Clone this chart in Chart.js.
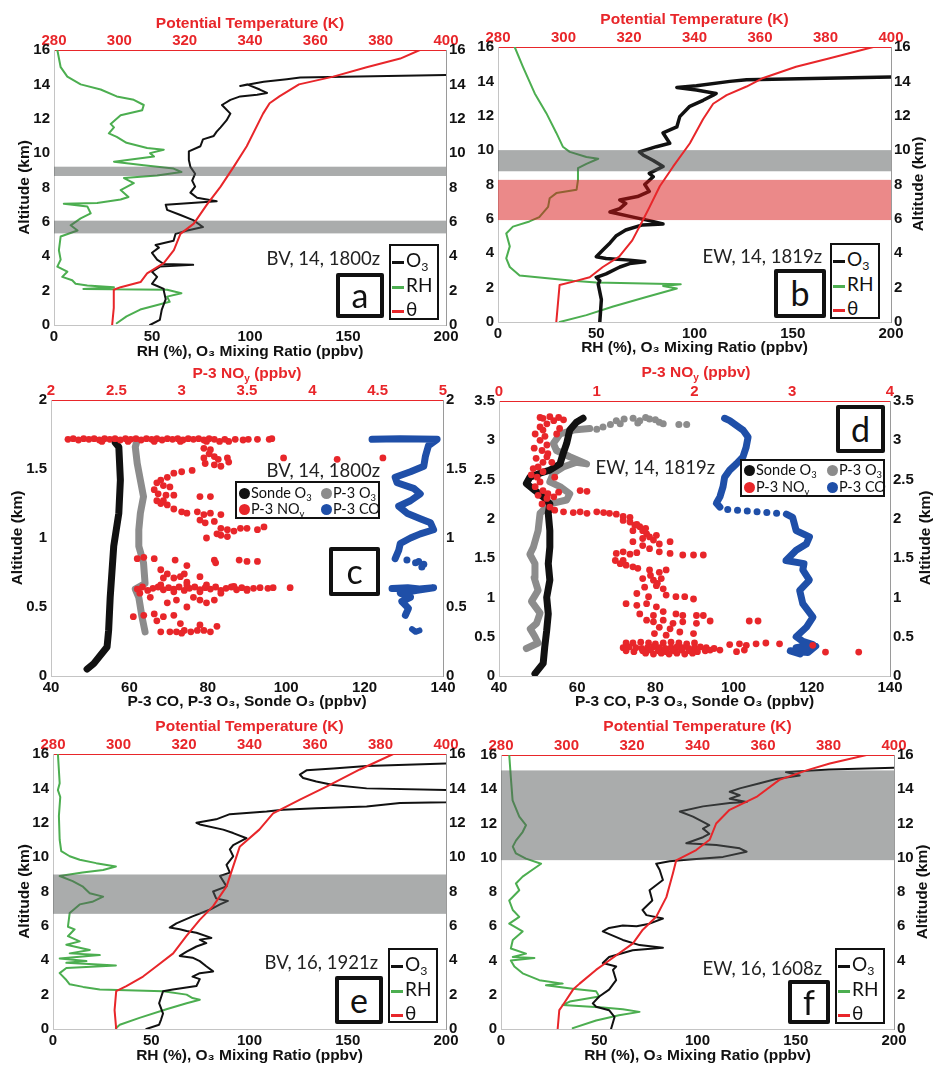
<!DOCTYPE html>
<html>
<head>
<meta charset="utf-8">
<script src="https://cdn.jsdelivr.net/npm/chart.js@4.4.1/dist/chart.umd.min.js"></script>
<style>
body { margin: 0; background: #fff; width: 933px; height: 1065px; position: relative; overflow: hidden; }
canvas { position: absolute; }
.ann { position: absolute; font: 18.5px Lato, sans-serif; color: #222; white-space: nowrap; text-align: right; height: 24px; line-height: 24px; }
.leg { position: absolute; box-sizing: border-box; border: 2px solid #111; background: #fff; color: #111; font: 19px Lato, sans-serif; }
.leg .r { position: absolute; left: 1px; height: 22px; line-height: 22px; white-space: nowrap; }
.leg i { display: inline-block; width: 12px; height: 3px; margin-right: 2px; vertical-align: middle; }
.leg2 { position: absolute; box-sizing: border-box; border: 2px solid #111; background: #fff; color: #111; font: 14.5px Lato, sans-serif; }
.leg2 .r { position: absolute; height: 17px; line-height: 17px; white-space: nowrap; }
.leg2 b { display: inline-block; width: 11px; height: 11px; border-radius: 50%; margin-right: 1px; vertical-align: -1px; }
.box { position: absolute; box-sizing: border-box; border: 4px solid #111; border-radius: 2px; background: #fff; color: #111; font: 34px Lato, sans-serif; text-align: center; }
.rtl { position: absolute; font: bold 15.5px "Liberation Sans", Arial, sans-serif; color: #111; white-space: nowrap; transform: translate(-50%, -50%) rotate(-90deg); }
.noy { position: absolute; font: bold 15.5px "Liberation Sans", Arial, sans-serif; color: #e8262a; white-space: nowrap; transform: translate(-50%, -50%); }
sub { font-size: 65%; vertical-align: -0.35em; line-height: 0; }
</style>
</head>
<body>
<canvas id="pa" width="466" height="362" style="left:0;top:0"></canvas>
<canvas id="pb" width="467" height="362" style="left:466px;top:0"></canvas>
<canvas id="pc" width="466" height="352" style="left:0;top:362px"></canvas>
<canvas id="pd" width="467" height="352" style="left:466px;top:362px"></canvas>
<canvas id="pe" width="466" height="351" style="left:0;top:714px"></canvas>
<canvas id="pf" width="467" height="351" style="left:466px;top:714px"></canvas>

<!-- panel a -->
<div class="ann" style="left:180px;top:246px;width:200px">BV, 14, 1800z</div>
<div class="box" style="left:336px;top:273px;width:48px;height:45px;line-height:36px">a</div>
<div class="leg" style="left:389px;top:244px;width:50px;height:76px">
  <div class="r" style="top:3px"><i style="background:#111"></i>O<sub>3</sub></div>
  <div class="r" style="top:28px"><i style="background:#4cae50"></i>RH</div>
  <div class="r" style="top:52px"><i style="background:#e8262a"></i>θ</div>
</div>
<!-- panel b -->
<div class="ann" style="left:622px;top:244px;width:200px">EW, 14, 1819z</div>
<div class="box" style="left:774px;top:269px;width:52px;height:49px;line-height:40px">b</div>
<div class="leg" style="left:830px;top:243px;width:50px;height:76px">
  <div class="r" style="top:3px"><i style="background:#111"></i>O<sub>3</sub></div>
  <div class="r" style="top:28px"><i style="background:#4cae50"></i>RH</div>
  <div class="r" style="top:52px"><i style="background:#e8262a"></i>θ</div>
</div>
<div class="rtl" style="left:918px;top:184px">Altitude (km)</div>
<!-- panel c -->
<div class="noy" style="left:247px;top:373px">P-3 NO<sub>y</sub> (ppbv)</div>
<div class="ann" style="left:180px;top:458px;width:200px">BV, 14, 1800z</div>
<div class="leg2" style="left:235px;top:481px;width:145px;height:38px">
  <div class="r" style="left:2px;top:1px"><b style="background:#111"></b>Sonde O<sub>3</sub></div>
  <div class="r" style="left:84px;top:1px"><b style="background:#8c8c8c"></b>P-3 O<sub>3</sub></div>
  <div class="r" style="left:2px;top:17px"><b style="background:#e8262a"></b>P-3 NO<sub>y</sub></div>
  <div class="r" style="left:84px;top:17px"><b style="background:#1f4fa8"></b>P-3 CO</div>
</div>
<div class="box" style="left:329px;top:547px;width:51px;height:49px;line-height:40px">c</div>
<!-- panel d -->
<div class="noy" style="left:696px;top:372px">P-3 NO<sub>y</sub> (ppbv)</div>
<div class="box" style="left:836px;top:405px;width:49px;height:48px;line-height:39px">d</div>
<div class="leg2" style="left:740px;top:459px;width:145px;height:38px">
  <div class="r" style="left:2px;top:0px"><b style="background:#111"></b>Sonde O<sub>3</sub></div>
  <div class="r" style="left:85px;top:0px"><b style="background:#8c8c8c"></b>P-3 O<sub>3</sub></div>
  <div class="r" style="left:2px;top:17px"><b style="background:#e8262a"></b>P-3 NO<sub>y</sub></div>
  <div class="r" style="left:85px;top:17px"><b style="background:#1f4fa8"></b>P-3 CO</div>
</div>
<div class="ann" style="left:515px;top:455px;width:200px">EW, 14, 1819z</div>
<div class="rtl" style="left:925px;top:538px">Altitude (km)</div>
<!-- panel e -->
<div class="ann" style="left:178px;top:950px;width:200px">BV, 16, 1921z</div>
<div class="box" style="left:335px;top:976px;width:48px;height:48px;line-height:39px">e</div>
<div class="leg" style="left:388px;top:948px;width:50px;height:75px">
  <div class="r" style="top:3px"><i style="background:#111"></i>O<sub>3</sub></div>
  <div class="r" style="top:28px"><i style="background:#4cae50"></i>RH</div>
  <div class="r" style="top:52px"><i style="background:#e8262a"></i>θ</div>
</div>
<!-- panel f -->
<div class="ann" style="left:622px;top:956px;width:200px">EW, 16, 1608z</div>
<div class="box" style="left:788px;top:980px;width:42px;height:44px;line-height:36px">f</div>
<div class="leg" style="left:835px;top:948px;width:50px;height:76px">
  <div class="r" style="top:3px"><i style="background:#111"></i>O<sub>3</sub></div>
  <div class="r" style="top:28px"><i style="background:#4cae50"></i>RH</div>
  <div class="r" style="top:52px"><i style="background:#e8262a"></i>θ</div>
</div>
<div class="rtl" style="left:922px;top:892px">Altitude (km)</div>

<script>
// ---- panel a: BV, 14, 1800z  ([value, altitude km]) ----
const aO3 = [[49,0],[54,0.3],[55,0.9],[57,1.5],[56,2.0],[56,2.1],[50,2.4],[52.6,2.8],[50,3.1],[54,3.4],[71,3.5],[56,3.55],[52.6,3.8],[50,4.2],[53.5,4.5],[51.8,4.65],[61,4.9],[62,5.3],[68,5.5],[76,5.7],[71,6.1],[64.5,6.4],[57.7,6.7],[57,7.0],[83,7.2],[73,7.4],[69.6,7.7],[72,8.05],[70.5,8.4],[72,8.8],[69.6,9.2],[68.8,9.6],[68.8,10.1],[74.7,10.4],[76,10.8],[81.5,11.0],[83,11.25],[85,11.5],[88,11.9],[90,12.3],[85.7,12.8],[90,13.1],[95,13.3],[103.6,13.4],[108.7,13.5],[105,13.7],[98.5,14.0],[95,13.9],[107,14.15],[118.8,14.3],[125.6,14.4],[200,14.55],[230,14.6]];
const aRH = [[1.7,16],[3.4,15],[6.8,14.45],[13.6,14.0],[23.8,13.7],[32,13.3],[40.7,13.1],[45.8,12.8],[45,12.5],[34,12.2],[28.9,11.7],[30.6,11.5],[28,11.15],[32,10.95],[37,10.6],[47.5,10.3],[56,10.2],[49,10.0],[51,9.8],[30.6,9.5],[45.8,9.3],[61,9.1],[65,8.9],[52.6,8.7],[35.7,8.55],[40.7,8.25],[34,7.85],[38,7.45],[34,7.3],[22,7.1],[5,7.05],[17,6.9],[18.7,6.5],[13.6,6.2],[8.5,5.8],[12,5.5],[3.4,5.15],[2.5,4.35],[3.4,3.8],[1.7,3.4],[6.8,3.1],[4.2,2.8],[9.3,2.6],[11,2.4],[17,2.3],[30.6,2.2],[15,2.1],[57.7,2.05],[65,1.85],[57.7,1.65],[59,1.35],[44,0.9],[37,0.5],[32,0.1]];
const aTheta = [[297.8,0],[298.3,1.0],[298.3,2.05],[300.4,2.2],[306.5,2.5],[308.5,3.0],[313.6,3.6],[316.7,4.35],[318.7,5.3],[322.8,5.9],[326.8,7.0],[331,8.05],[335,9.2],[339,10.4],[344,12.3],[346,12.9],[349,13.3],[355,14.0],[365.5,14.45],[375.7,15.0],[386,15.5],[392,16]];
const aBands = [[8.67,9.21],[5.33,6.07]];

// ---- panel b: EW, 14, 1819z ----
const bO3 = [[51.8,0],[52.6,1.3],[51,2.2],[51.8,2.4],[50,2.6],[55,2.8],[62,3.2],[67,3.4],[74.7,3.5],[67,3.6],[55,3.7],[50,3.8],[53.5,4.2],[57,4.6],[60,5.0],[65,5.35],[73.5,5.65],[84,5.7],[77,5.9],[68.8,6.1],[57,6.4],[62,6.6],[65,6.9],[62,7.1],[71,7.3],[77,7.6],[74.7,8.0],[79,8.45],[77,8.65],[84,9.05],[79,9.4],[74,9.7],[72,9.9],[80.6,10.2],[87.4,10.4],[84,11.0],[91,11.35],[92.5,11.95],[97.6,12.55],[104.4,12.9],[109.5,13.2],[111,13.3],[101,13.5],[91,13.65],[101,13.75],[118,14.0],[126.5,14.1],[200,14.25],[230,14.3]];
const bRH = [[8.5,16],[12.7,14.85],[18.7,13.3],[24.6,12.15],[29.7,11.0],[33,10.2],[36.5,9.9],[45,9.6],[51,9.5],[45,9.2],[40.7,8.95],[40.7,8.25],[40,7.7],[29.7,7.5],[26.3,7.2],[25.5,6.7],[21,6.1],[16,5.85],[7.6,5.55],[4.2,5.15],[6,4.4],[4.2,3.7],[6,3.2],[11,2.7],[38,2.4],[50,2.3],[93,2.2],[84,2.1],[91,1.95],[75.5,1.45],[58.6,0.9],[45,0.4],[31.4,0]];
const bTheta = [[297.8,0],[298.8,2.15],[303,2.35],[308,2.6],[312,3.2],[317,3.8],[321,4.75],[324.3,5.95],[326.3,6.7],[329.4,7.9],[333.5,9.05],[338.6,10.4],[342.6,11.8],[345.7,12.7],[349.8,13.2],[355.9,13.7],[361,14.2],[371,14.85],[381.3,15.35],[394.6,16]];
const bGrayBands = [[8.77,10.0]];
const bPinkBands = [[5.93,8.27]];

// ---- panel c: BV, 14, 1800z, P-3 spiral ----
const cSonde = [[49.2,0.05],[50.9,0.09],[54.3,0.21],[54.7,0.33],[55.1,0.57],[56,0.94],[57.3,1.18],[57.7,1.42],[57.3,1.66],[56.4,1.69]];
const cP3O3 = [[64,0.32],[63.2,0.43],[62.4,0.57],[61.5,0.63],[64,0.67],[63.6,0.82],[62.4,0.94],[62.4,1.06],[62.8,1.18],[63.6,1.3],[62.8,1.42],[62,1.54],[61.5,1.66],[62,1.71]];
const cCOup = [[121.9,1.715],[129.1,1.72],[138.5,1.715],[136.3,1.67],[135.5,1.59],[135.1,1.52],[131.7,1.48],[127.8,1.44],[128.3,1.4],[132.5,1.36],[134.2,1.32],[131.7,1.27],[128.7,1.23],[130.8,1.18],[134.2,1.14],[136.8,1.11],[137.6,1.06],[134.2,1.03],[131.7,1.0],[129.1,0.96],[128.7,0.91],[127.8,0.85]];
const cCOdots = [[130.8,0.84],[133.8,0.83],[135.1,0.81],[134.6,0.79],[133,0.82]];
const cCOlow = [[127,0.634],[131,0.64],[134,0.63],[137.6,0.64],[133,0.62],[129.1,0.6],[131.7,0.57],[129.5,0.54],[131.2,0.49],[130.4,0.44]];
const cCObot = [[132.1,0.34],[133,0.32],[134,0.33]];
const cNOy = [
  [2.13,1.715],[2.17,1.72],[2.21,1.71],[2.25,1.72],[2.29,1.715],[2.33,1.72],[2.37,1.71],[2.41,1.72],[2.45,1.715],[2.49,1.72],[2.53,1.71],[2.57,1.72],[2.61,1.715],[2.65,1.72],[2.69,1.71],[2.73,1.72],[2.77,1.715],[2.81,1.72],[2.85,1.71],[2.89,1.72],[2.93,1.715],[2.97,1.72],[3.01,1.71],[3.05,1.72],[3.09,1.715],[3.13,1.72],[3.17,1.71],[3.21,1.72],[3.25,1.715],[3.29,1.7],[3.33,1.715],[3.36,1.7],[3.41,1.715],[3.47,1.71],[3.51,1.715],[3.58,1.715],[3.67,1.715],[3.69,1.72],[2.39,1.7],[2.59,1.7],[2.79,1.7],[2.99,1.7],[3.19,1.7],
  [3.17,1.65],[3.21,1.61],[3.17,1.58],[3.25,1.59],[3.28,1.57],[3.35,1.58],[3.18,1.54],[3.25,1.53],[3.3,1.52],[3.36,1.55],[3.22,1.64],
  [3.78,1.58],[4.19,1.57],[4.54,1.58],
  [2.94,1.47],[3.0,1.48],[3.08,1.49],[2.89,1.44],[2.84,1.42],[2.81,1.4],[2.86,1.38],[2.91,1.37],[2.79,1.35],[2.82,1.32],[2.88,1.31],[2.86,1.27],[2.94,1.31],[3.14,1.3],[3.22,1.3],
  [2.81,1.27],[2.84,1.25],[2.89,1.24],[2.94,1.21],[3.0,1.19],[3.04,1.18],[3.12,1.19],[3.17,1.17],[3.22,1.18],[3.3,1.17],[3.14,1.13],[3.18,1.11],[3.25,1.12],[3.3,1.07],[3.35,1.06],[3.4,1.05],[3.45,1.07],[3.5,1.07],[3.58,1.06],[3.63,1.08],[3.3,1.02],[3.19,1.0],[3.27,1.03],[3.35,1.01],
  [2.66,0.85],[2.71,0.86],[2.79,0.85],[2.95,0.84],[3.04,0.8],[3.25,0.84],[3.26,0.82],[3.44,0.84],[3.5,0.83],[3.58,0.83],
  [2.84,0.77],[2.89,0.74],[2.94,0.71],[2.99,0.72],[3.02,0.74],[3.04,0.68],[3.14,0.72],[2.86,0.71],
  [2.66,0.63],[2.7,0.645],[2.74,0.62],[2.78,0.635],[2.82,0.645],[2.86,0.625],[2.9,0.64],[2.94,0.63],[2.98,0.645],[3.02,0.62],[3.06,0.635],[3.1,0.645],[3.14,0.625],[3.18,0.64],[3.22,0.63],[3.26,0.645],[3.3,0.62],[3.34,0.635],[3.38,0.645],[3.42,0.625],[3.46,0.64],[3.5,0.63],[3.55,0.635],[3.6,0.64],[3.66,0.635],[3.7,0.64],[3.83,0.64],
  [2.84,0.66],[3.04,0.66],[3.19,0.66],[3.4,0.65],[2.94,0.61],[3.14,0.61],[3.3,0.6],[3.5,0.62],[2.68,0.6],[2.76,0.57],
  [2.63,0.43],[2.71,0.44],[2.79,0.45],[2.86,0.43],[2.94,0.44],[2.81,0.4],[2.99,0.38],[2.89,0.53],[2.96,0.55],[3.04,0.5],[3.09,0.57],[3.14,0.55],[3.19,0.53],[3.25,0.55],
  [2.91,0.32],[2.96,0.32],[3.02,0.33],[3.07,0.32],[3.12,0.33],[3.14,0.37],[3.17,0.33],[3.22,0.32],[3.27,0.36],[3.0,0.31],[2.84,0.32]
];

// ---- panel d: EW, 14, 1819z, P-3 spiral ----
const dSonde = [[49.2,0.03],[51.3,0.16],[51.7,0.37],[52.2,0.58],[52.6,0.79],[52.2,1.0],[53,1.22],[52.6,1.43],[53,1.64],[53,1.85],[52.6,2.07],[53,2.19],[51.3,2.28],[49.2,2.36],[47,2.45],[47.9,2.53],[50.5,2.58],[53,2.62],[55.6,2.7],[56.4,2.83],[57.3,2.96],[58.1,3.13],[59.8,3.23],[61.5,3.28]];
const dP3O3 = [[47,0.35],[50,0.42],[49.2,0.5],[48,0.6],[49.6,0.67],[50.5,0.8],[48.3,0.95],[50,1.09],[49,1.25],[49.2,1.43],[47.9,1.55],[48.8,1.64],[50,1.85],[50.5,2.07],[53,2.19],[57.3,2.24],[58.1,2.32],[55.6,2.41],[53,2.47],[53.9,2.58],[56.4,2.66],[59.8,2.72],[62.4,2.7],[58.1,2.79],[54.7,2.87],[53.9,2.96],[55.6,3.08],[59,3.13],[63.2,3.15]];
const dP3O3dots = [[65,3.14],[66.6,3.17],[68.5,3.2],[70,3.25],[72,3.27],[74.3,3.28],[76,3.25],[77.5,3.29],[78.5,3.27],[80,3.26],[81,3.23],[82,3.21],[86,3.2],[88,3.2],[71,3.21],[75.5,3.22]];
const dCOlow = [[117,0.28],[114.5,0.32],[119,0.3],[121,0.38],[116,0.36],[120.3,0.4],[117.7,0.44],[116,0.5],[118.6,0.62],[120.3,0.75],[117.7,0.92],[116.9,1.09],[119.4,1.22],[117.7,1.35],[118,1.43],[113.4,1.47],[116,1.6],[118.6,1.68],[119.4,1.77],[116,1.85],[115.1,2.02],[113.5,2.06]];
const dCOdots = [[111,2.07],[108.5,2.08],[106,2.09],[103.5,2.1],[101,2.11],[98.5,2.12]];
const dCOup = [[96.5,2.15],[95.6,2.2],[96.5,2.28],[97.3,2.41],[97.7,2.53],[99,2.62],[100.7,2.7],[102.4,2.79],[103.2,2.91],[103.7,3.04],[102.4,3.13],[99,3.25],[97.7,3.28]];
const dNOy = [
  [0.42,3.29],[0.52,3.3],[0.61,3.29],[0.66,3.26],[0.56,3.25],[0.49,3.21],[0.42,3.17],[0.37,3.08],[0.45,3.13],[0.42,3.0],[0.49,2.94],[0.44,2.87],[0.49,2.79],[0.45,2.72],[0.4,2.66],[0.35,2.64],[0.45,2.6],[0.39,2.53],[0.42,2.47],[0.37,2.41],[0.45,2.36],[0.4,2.3],[0.49,2.26],[0.44,2.19],[0.52,2.15],[0.5,2.32],[0.56,2.28],[0.61,2.34],[0.83,2.36],[0.9,2.35],[0.57,2.53],[0.54,2.72],[0.59,3.08],[0.62,3.15],[0.45,3.28],[0.36,2.9],[0.47,3.05],[0.5,2.83],[0.38,2.77],[0.33,2.56],
  [0.57,2.11],[0.66,2.09],[0.76,2.08],[0.83,2.09],[0.9,2.07],[1.0,2.09],[1.07,2.08],[1.13,2.07],[1.2,2.06],[1.27,2.03],[1.34,2.02],
  [1.27,1.98],[1.34,1.96],[1.39,1.92],[1.44,1.9],[1.37,1.85],[1.47,1.85],[1.51,1.81],[1.54,1.77],[1.58,1.73],[1.61,1.79],[1.47,1.75],[1.37,1.71],[1.47,1.66],[1.64,1.68],[1.75,1.71],[1.54,1.62],[1.41,1.93],[1.5,1.88],
  [1.2,1.56],[1.27,1.58],[1.34,1.55],[1.41,1.57],[1.64,1.58],[1.75,1.56],[1.88,1.54],[1.99,1.54],[2.09,1.54],[1.19,1.47],[1.24,1.43],[1.3,1.41],[1.37,1.39],[1.42,1.37],[1.27,1.47],[1.54,1.35],[1.64,1.32],[1.71,1.35],
  [1.47,1.24],[1.58,1.22],[1.66,1.24],[1.49,1.13],[1.61,1.15],[1.68,1.11],[1.41,1.05],[1.53,1.01],[1.71,1.03],[1.81,1.01],[1.9,1.01],[1.99,0.98],[1.3,0.92],[1.41,0.9],[1.51,0.92],[1.61,0.88],[1.68,0.82],[1.44,0.79],[1.58,0.77],[1.81,0.79],[1.88,0.77],[2.02,0.77],[2.09,0.77],[1.55,1.28],[1.62,1.18],
  [1.51,0.71],[1.58,0.69],[1.68,0.71],[1.78,0.67],[1.88,0.69],[2.02,0.67],[2.16,0.7],[2.56,0.7],[2.65,0.7],[1.64,0.62],[1.75,0.6],[1.85,0.56],[1.99,0.54],[1.71,0.52],[1.59,0.54],
  [1.3,0.42],[1.37,0.42],[1.45,0.43],[1.53,0.42],[1.6,0.41],[1.68,0.42],[1.76,0.43],[1.84,0.42],[1.92,0.41],[2.0,0.42],[2.36,0.4],[2.46,0.41],[2.53,0.39],[2.63,0.41],[2.73,0.42],[2.87,0.41],
  [1.27,0.36],[1.33,0.37],[1.4,0.36],[1.46,0.35],[1.52,0.36],[1.58,0.37],[1.64,0.36],[1.7,0.35],[1.76,0.36],[1.82,0.37],[1.88,0.36],[1.94,0.35],[2.0,0.36],[2.06,0.37],[2.12,0.36],[2.2,0.35],
  [1.3,0.32],[1.38,0.31],[1.47,0.32],[1.55,0.33],[1.63,0.32],[1.71,0.31],[1.79,0.32],[1.87,0.33],[1.95,0.32],[2.03,0.31],[2.11,0.32],[2.16,0.33],[2.43,0.31],[2.51,0.33],
  [1.5,0.29],[1.58,0.28],[1.66,0.29],[1.74,0.28],[1.82,0.29],[1.9,0.28],[1.98,0.29],
  [3.21,0.39],[3.34,0.305],[3.68,0.305],[2.26,0.33]
];

// ---- panel e: BV, 16, 1921z ----
const eO3 = [[47.5,0],[54,0.25],[55,0.55],[56,0.9],[54,1.5],[56,2.2],[61,2.3],[73,2.5],[74.7,2.9],[71,3.05],[74.7,3.25],[81.5,3.35],[78,3.65],[74.7,3.95],[71,4.15],[64.5,4.25],[68,4.5],[73,4.8],[78,5.0],[74.7,5.2],[80.6,5.3],[73,5.6],[68,5.7],[64.5,5.8],[59.4,5.9],[62.8,6.15],[71,6.55],[80,6.95],[85,7.25],[89,7.45],[83,7.6],[81.5,8.0],[88.3,8.3],[85,8.9],[90,9.1],[88.3,9.55],[91.7,10.05],[90,10.45],[91.7,10.7],[98.5,11.1],[91.7,11.4],[86.6,11.6],[74.7,11.9],[73,12.0],[83,12.2],[90,12.5],[108.7,12.65],[117,12.75],[134,12.85],[159.6,12.95],[176.6,13.15],[200,13.2],[240,13.55],[200,13.9],[159.6,14.0],[142.6,14.2],[134,14.4],[127.3,14.6],[125.6,14.8],[129,15.05],[142.6,15.15],[159.6,15.3],[200,15.45],[230,15.5]];
const eRH = [[2.5,16],[3.4,14.3],[2.5,13.9],[3.7,13.5],[3,12.4],[3.4,11],[4.2,10.35],[8.5,10.05],[13.6,9.85],[22,9.65],[32,9.45],[25.5,9.25],[15,9.1],[3.4,8.9],[10,8.6],[15,8.3],[18.7,7.9],[25.5,7.7],[20,7.4],[13.6,7.25],[8.5,6.75],[7.6,5.95],[11,5.8],[7.6,5.4],[13.6,5.1],[6.8,4.9],[18.7,4.6],[8.5,4.4],[23.8,4.3],[3.4,4.1],[17,3.95],[6.8,3.85],[32,3.7],[6.8,3.55],[3.4,3.25],[6.8,2.85],[8.5,2.6],[15.3,2.45],[23.8,2.3],[56,2.2],[68,2.0],[71,1.8],[74.7,1.7],[68,1.5],[57.7,1.15],[44,0.65],[34,0.25],[32,0.05]];
const eTheta = [[299.3,0],[298.8,1.1],[299.3,2.2],[302.4,2.5],[307.5,3.05],[311.6,3.65],[316.7,4.4],[320.7,5.4],[324.8,6.35],[328.9,7.15],[333,8.3],[335,9.45],[337,10.6],[343,11.6],[347.2,12.55],[355.4,13.35],[363.5,14.1],[373.7,15.1],[383.9,16]];
const eBands = [[6.7,8.99]];

// ---- panel f: EW, 16, 1608z ----
const fO3 = [[56,0],[57.8,0.7],[55,1.1],[48.4,1.3],[46.7,1.5],[50,1.9],[55,2.3],[58.6,2.85],[57,3.45],[58.6,3.65],[51.8,3.85],[55,4.2],[67,4.6],[82.4,4.75],[70.5,4.9],[62,5.2],[51.8,5.7],[55,5.9],[62,6.05],[69,6.0],[75.6,6.15],[82.4,6.45],[74,6.65],[72,6.95],[77,7.5],[75.6,8.1],[82.4,8.7],[80.7,9.3],[79,9.65],[85.8,9.8],[96,9.9],[113,10.05],[125,10.35],[121.5,10.55],[109.6,10.75],[94.3,10.85],[102.8,11.2],[106,11.4],[102.8,11.7],[106,11.9],[97.7,12.4],[91,12.7],[102.8,13.0],[116.4,13.2],[125,13.25],[116.4,13.45],[121.5,13.65],[116.4,13.85],[121.5,14.05],[131.7,14.35],[140,14.6],[152,14.8],[145,15.0],[167,15.15],[200,15.25],[230,15.3]];
const fRH = [[4.2,16],[5,14.7],[5.9,13.35],[9.3,12.4],[12.7,11.9],[11,11.5],[7.6,11.0],[6,10.65],[7.6,10.25],[12.7,9.95],[20.4,9.65],[16,9.3],[11,8.9],[7.6,8.5],[9.3,8.1],[4.2,7.5],[6,6.95],[9.3,6.55],[4.2,6.15],[11,5.7],[6,5.2],[5,4.7],[12.7,4.4],[6,4.2],[17,4.15],[5,4.0],[6.8,3.65],[11,3.25],[19.5,2.85],[31.4,2.65],[22.9,2.55],[36.5,2.35],[48.4,2.2],[50,1.9],[35,1.6],[31.4,1.4],[51.8,1.25],[62,1.15],[70.5,1.0],[60,0.8],[48.4,0.5],[36.5,0.05]];
const fTheta = [[297.3,0],[297.8,1.1],[298.9,1.4],[302,2.3],[304,2.65],[309,3.45],[313,4.0],[320.3,5.0],[323.3,5.8],[327.4,6.55],[330.5,7.7],[332.5,9.1],[333.5,9.85],[339.6,10.45],[343.7,11.05],[345.7,12.0],[349.8,12.8],[358,13.55],[365,14.55],[373.3,15.1],[380.4,15.5],[391.6,16]];
const fBands = [[9.86,15.1]];

// axis ranges [min, max, step]
const o3Range = [0, 200, 50], thetaRange = [280, 400, 20], altRange = [0, 16, 2];
const p3Range = [40, 140, 20], cNOyRange = [2, 5, 0.5], dNOyRange = [0, 4, 1];
const cAltRange = [0, 2, 0.5], dAltRange = [0, 3.5, 0.5];

const RED = '#e8262a', GREEN = '#4cae50', INK = '#111', GRAY = '#8c8c8c', BLUE = '#1f4fa8';
const GRAYBAND = 'rgba(85,89,89,0.5)', PINKBAND = 'rgba(215,20,20,0.5)';
const TICK = { size: 15, weight: 'bold', family: 'Liberation Sans' };
const TITLE = { size: 15.5, weight: 'bold', family: 'Liberation Sans' };

const xy = arr => arr.map(p => ({ x: p[0], y: p[1] }));
const fix = size => s => { if (s.isHorizontal()) s.height = size; else s.width = size; };
const plain = v => String(Math.round(v * 100) / 100);   // 1 not 1.0, 2.5 stays

// shaded altitude bands, drawn just before the first dataset (theta / top layer)
const bandPlugin = {
  id: 'bands',
  beforeDatasetDraw(chart, args, opts) {
    if (args.index !== 0 || !opts.sets) return;
    const { ctx, chartArea, scales } = chart;
    opts.sets.forEach(set => {
      set.ranges.forEach(r => {
        const top = scales.y.getPixelForValue(r[1]);
        const bot = scales.y.getPixelForValue(r[0]);
        ctx.save();
        ctx.fillStyle = set.color;
        ctx.fillRect(chartArea.left, top, chartArea.right - chartArea.left, bot - top);
        ctx.restore();
      });
    });
  }
};

function line(arr, color, width, axis) {
  return { data: xy(arr), showLine: true, borderColor: color, borderWidth: width, pointRadius: 0,
    borderJoinStyle: 'round', borderCapStyle: 'round', xAxisID: axis || 'x', yAxisID: 'y' };
}
function dots(arr, color, r, axis) {
  return { data: xy(arr), showLine: false, backgroundColor: color, borderWidth: 0, pointRadius: r,
    xAxisID: axis || 'x', yAxisID: 'y' };
}

function makeChart(id, g, xr, tr, yr, datasets, bandSets) {
  const noGrid = { display: false, drawTicks: false };
  new Chart(document.getElementById(id), {
    type: 'scatter',
    data: { datasets: datasets },
    options: {
      responsive: false,
      animation: false,
      events: [],
      layout: { padding: 0 },
      plugins: { legend: { display: false }, tooltip: { enabled: false }, bands: { sets: bandSets } },
      scales: {
        x: { type: 'linear', position: 'bottom', min: xr[0], max: xr[1], afterFit: fix(g.B),
          grid: noGrid, border: { color: '#c4c4c4' },
          ticks: { stepSize: xr[2], font: TICK, color: INK, padding: 3, callback: plain },
          title: { display: true, text: g.xTitle, font: TITLE, color: INK, padding: { top: 0, bottom: g.bp } } },
        xt: { type: 'linear', position: 'top', min: tr[0], max: tr[1], afterFit: fix(g.T),
          grid: noGrid, border: { color: RED },
          ticks: { stepSize: tr[2], font: TICK, color: RED, padding: 0, callback: plain },
          title: { display: !!g.tTitle, text: g.tTitle || '', font: TITLE, color: RED, padding: { top: g.tp || 0, bottom: 0 } } },
        y: { type: 'linear', position: 'left', min: yr[0], max: yr[1], afterFit: fix(g.L),
          grid: noGrid, border: { color: '#c4c4c4' },
          ticks: { stepSize: yr[2], font: TICK, color: INK, padding: 4, callback: plain },
          title: { display: !!g.yTitle, text: 'Altitude (km)', font: TITLE, color: INK, padding: { top: g.lp || 0, bottom: 0 } } },
        y2: { type: 'linear', position: 'right', min: yr[0], max: yr[1], afterFit: fix(g.R),
          grid: noGrid, border: { color: '#9a9a9a' },
          ticks: { stepSize: yr[2], font: TICK, color: INK, padding: 3, callback: plain } }
      }
    },
    plugins: [bandPlugin]
  });
}

const rhTitle = 'RH (%), O\u2083 Mixing Ratio (ppbv)';
const p3Title = 'P-3 CO, P-3 O\u2083, Sonde O\u2083 (ppbv)';
const thTitle = 'Potential Temperature (K)';

function profile(o3, rh, th, o3w) {
  return [line(th, RED, 2, 'xt'), line(o3, INK, o3w || 2), line(rh, GREEN, 2)];
}

makeChart('pa', { L: 54, R: 20, T: 50, B: 37, tp: 14, bp: 1, lp: 15, yTitle: true, tTitle: thTitle, xTitle: rhTitle },
  o3Range, thetaRange, altRange, profile(aO3, aRH, aTheta), [{ ranges: aBands, color: GRAYBAND }]);

makeChart('pb', { L: 32, R: 42, T: 47, B: 40, tp: 10, bp: 5, yTitle: false, tTitle: thTitle, xTitle: rhTitle },
  o3Range, thetaRange, altRange, profile(bO3, bRH, bTheta, 3.5),
  [{ ranges: bGrayBands, color: GRAYBAND }, { ranges: bPinkBands, color: PINKBAND }]);

makeChart('pc', { L: 51, R: 23, T: 38, B: 38, bp: 3, lp: 8, yTitle: true, xTitle: p3Title },
  p3Range, cNOyRange, cAltRange, [
    dots(cNOy, RED, 3.4, 'xt'),
    line(cCOup, BLUE, 7), dots(cCOdots, BLUE, 3.5), line(cCOlow, BLUE, 7), line(cCObot, BLUE, 6),
    line(cP3O3, GRAY, 7),
    line(cSonde, INK, 7)
  ], []);

makeChart('pd', { L: 33, R: 43, T: 39, B: 38, bp: 3, yTitle: false, xTitle: p3Title },
  p3Range, dNOyRange, dAltRange, [
    dots(dNOy, RED, 3.4, 'xt'),
    line(dCOup, BLUE, 7), dots(dCOdots, BLUE, 3.5), line(dCOlow, BLUE, 7),
    line(dSonde, INK, 7),
    line(dP3O3, GRAY, 7), dots(dP3O3dots, GRAY, 3.5)
  ], []);

makeChart('pe', { L: 53, R: 20, T: 40, B: 36, tp: 3, bp: 0, lp: 15, yTitle: true, tTitle: thTitle, xTitle: rhTitle },
  o3Range, thetaRange, altRange, profile(eO3, eRH, eTheta), [{ ranges: eBands, color: GRAYBAND }]);

makeChart('pf', { L: 35, R: 39, T: 41, B: 36, tp: 3, bp: 0, yTitle: false, tTitle: thTitle, xTitle: rhTitle },
  o3Range, thetaRange, altRange, profile(fO3, fRH, fTheta), [{ ranges: fBands, color: GRAYBAND }]);
</script>
</body>
</html>
